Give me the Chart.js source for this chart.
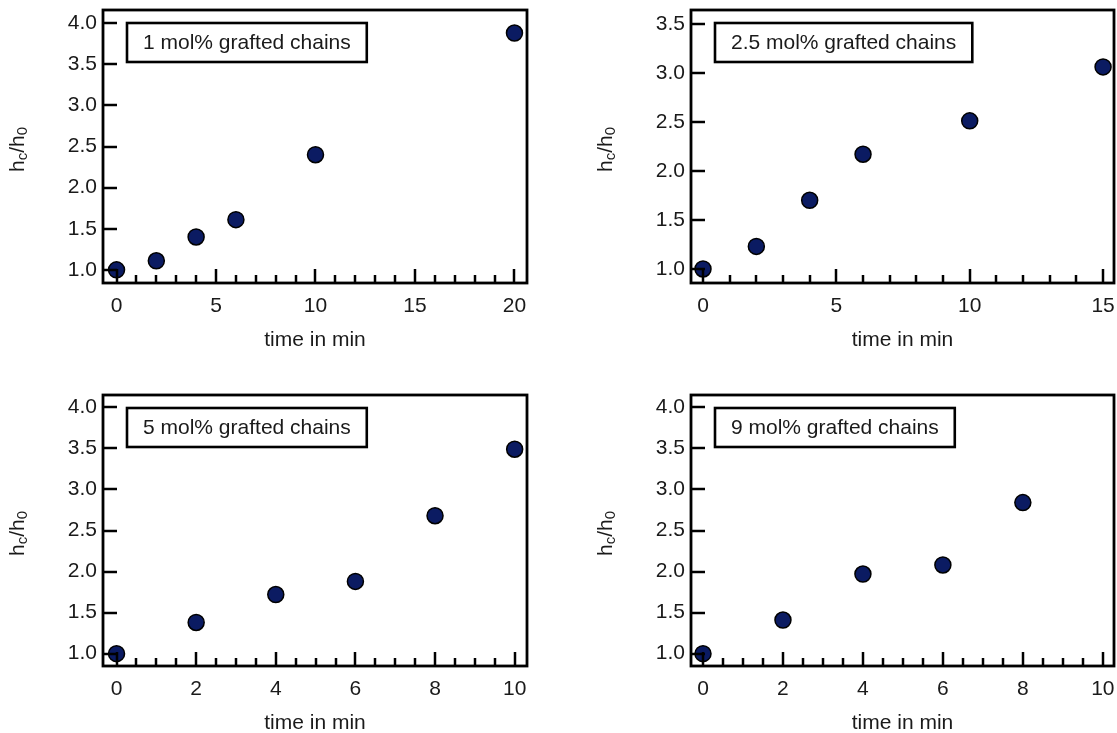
<!DOCTYPE html>
<html>
<head>
<meta charset="utf-8">
<script src="https://cdn.jsdelivr.net/npm/chart.js@4/dist/chart.umd.min.js"></script>
<style>
html,body{margin:0;padding:0;background:#fff;}
#wrap{position:relative;width:1117px;height:733px;overflow:hidden;}
canvas{position:absolute;}
</style>
</head>
<body>
<div id="wrap">
<canvas id="c1"></canvas>
<canvas id="c2"></canvas>
<canvas id="c3"></canvas>
<canvas id="c4"></canvas>
</div>
<script>
// ---- data ----
const timesA = [0, 2, 4, 6, 10, 20];
const ratioA = [1.00, 1.11, 1.40, 1.61, 2.40, 3.88];
const timesB = [0, 2, 4, 6, 10, 15];
const ratioB = [1.00, 1.23, 1.70, 2.17, 2.51, 3.06];
const timesC = [0, 2, 4, 6, 8, 10];
const ratioC = [1.00, 1.38, 1.72, 1.88, 2.68, 3.49];
const timesD = [0, 2, 4, 6, 8];
const ratioD = [1.00, 1.41, 1.97, 2.08, 2.84];

const labelA = "1 mol% grafted chains";
const labelB = "2.5 mol% grafted chains";
const labelC = "5 mol% grafted chains";
const labelD = "9 mol% grafted chains";

const xTicksA = [0, 5, 10, 15, 20];
const xTicksB = [0, 5, 10, 15];
const xTicksCD = [0, 2, 4, 6, 8, 10];
const yTicksA = [1.0, 1.5, 2.0, 2.5, 3.0, 3.5, 4.0];
const yTicksB = [1.0, 1.5, 2.0, 2.5, 3.0, 3.5];
const yTicksCD = [1.0, 1.5, 2.0, 2.5, 3.0, 3.5, 4.0];

const xTitle = "time in min";

const FONT = "'Liberation Sans', Arial, sans-serif";
const FS = 21;
const TXT = '#1a1a1a';
const PT_FILL = '#0b1b62';

const framePlugin = {
  id: 'frame',
  afterDatasetsDraw(chart, args, opts) {
    const ctx = chart.ctx;
    const a = chart.chartArea;
    const xs = chart.scales.x, ys = chart.scales.y;
    ctx.save();
    ctx.strokeStyle = '#000';
    ctx.lineCap = 'butt';
    // x ticks (major + minor), inward
    ctx.lineWidth = 2.5;
    const xmin = Math.ceil(xs.min / opts.minorStep) * opts.minorStep;
    for (let v = xmin; v <= xs.max + 1e-9; v += opts.minorStep) {
      const isMajor = opts.xTicks.some(t => Math.abs(t - v) < 1e-6);
      const len = isMajor ? 14 : 8;
      const px = Math.round(xs.getPixelForValue(v));
      ctx.beginPath();
      ctx.moveTo(px, a.bottom);
      ctx.lineTo(px, a.bottom - len);
      ctx.stroke();
    }
    // y ticks, inward
    opts.yTicks.forEach(v => {
      const py = Math.round(ys.getPixelForValue(v));
      ctx.beginPath();
      ctx.moveTo(a.left, py);
      ctx.lineTo(a.left + 14, py);
      ctx.stroke();
    });
    // frame
    ctx.lineWidth = 2.8;
    ctx.strokeRect(a.left, a.top, a.right - a.left, a.bottom - a.top);
    // x tick labels
    ctx.font = FS + 'px ' + FONT;
    ctx.fillStyle = TXT;
    ctx.textAlign = 'center';
    ctx.textBaseline = 'middle';
    opts.xTicks.forEach(v => {
      ctx.fillText(String(v), xs.getPixelForValue(v), a.bottom + 23);
    });
    // label box
    const tw = ctx.measureText(opts.label).width;
    const bx = a.left + 24, by = a.top + 13, bw = tw + 32, bh = 39;
    ctx.fillStyle = '#fff';
    ctx.fillRect(bx, by, bw, bh);
    ctx.lineWidth = 2.6;
    ctx.strokeRect(bx, by, bw, bh);
    ctx.fillStyle = TXT;
    ctx.fillText(opts.label, bx + bw / 2, by + bh / 2 + 1);
    // x title
    ctx.fillText(xTitle, (a.left + a.right) / 2, a.bottom + 57);
    // y title h_c/h_0
    ctx.translate(a.left - 85, (a.top + a.bottom) / 2 + 3);
    ctx.rotate(-Math.PI / 2);
    const big = FS + 'px ' + FONT, small = '15px ' + FONT;
    const parts = [['h', big, 0], ['c', small, 5], ['/h', big, 0], ['0', small, 5]];
    let total = 0;
    parts.forEach(p => { ctx.font = p[1]; total += ctx.measureText(p[0]).width; });
    let x = -total / 2;
    ctx.textAlign = 'left';
    ctx.textBaseline = 'middle';
    parts.forEach(p => {
      ctx.font = p[1];
      ctx.fillText(p[0], x, p[2]);
      x += ctx.measureText(p[0]).width;
    });
    ctx.restore();
  }
};

function makePanel(id, pos, area, times, ratios, xr, yr, xTicks, yTicks, minorStep, label) {
  const cv = document.getElementById(id);
  cv.style.left = pos.left + 'px';
  cv.style.top = pos.top + 'px';
  cv.style.width = pos.w + 'px';
  cv.style.height = pos.h + 'px';
  cv.width = pos.w; cv.height = pos.h;
  const pts = times.map((t, i) => ({ x: t, y: ratios[i] }));
  new Chart(cv, {
    type: 'scatter',
    data: { datasets: [{
      data: pts,
      backgroundColor: PT_FILL,
      borderColor: '#000',
      borderWidth: 1.5,
      pointRadius: 8,
      pointHoverRadius: 8,
      clip: false
    }] },
    options: {
      responsive: false,
      animation: false,
      events: [],
      layout: { autoPadding: false, padding: { left: 0, top: area.top, right: pos.w - area.right, bottom: 0 } },
      plugins: {
        legend: { display: false },
        tooltip: { enabled: false },
        frame: { label, xTicks, yTicks, minorStep }
      },
      scales: {
        x: {
          type: 'linear', min: xr[0], max: xr[1],
          grid: { display: false, drawTicks: false },
          border: { display: false },
          afterBuildTicks: s => { s.ticks = xTicks.map(v => ({ value: v })); },
          afterFit: s => { s.height = pos.h - area.bottom; s.paddingLeft = 0; s.paddingRight = 0; },
          ticks: { display: false }
        },
        y: {
          type: 'linear', min: yr[0], max: yr[1],
          grid: { display: false, drawTicks: false },
          border: { display: false },
          afterBuildTicks: s => { s.ticks = yTicks.map(v => ({ value: v })); },
          afterFit: s => { s.width = area.left; s.paddingTop = 0; s.paddingBottom = 0; },
          ticks: { padding: 6, color: TXT, font: { family: FONT, size: FS },
                   callback: v => Number(v).toFixed(1) }
        }
      }
    },
    plugins: [framePlugin]
  });
}

makePanel('c1', { left: 0, top: 0, w: 558, h: 370 }, { left: 103, right: 527, top: 10, bottom: 283 },
  timesA, ratioA, [-0.68, 20.63], [0.84, 4.16], xTicksA, yTicksA, 1, labelA);
makePanel('c2', { left: 558, top: 0, w: 559, h: 370 }, { left: 133, right: 556, top: 10, bottom: 283 },
  timesB, ratioB, [-0.45, 15.41], [0.857, 3.64], xTicksB, yTicksB, 1, labelB);
makePanel('c3', { left: 0, top: 370, w: 558, h: 363 }, { left: 103, right: 527, top: 25, bottom: 296 },
  timesC, ratioC, [-0.34, 10.31], [0.85, 4.15], xTicksCD, yTicksCD, 0.5, labelC);
makePanel('c4', { left: 558, top: 370, w: 559, h: 363 }, { left: 133, right: 556, top: 25, bottom: 296 },
  timesD, ratioD, [-0.30, 10.28], [0.85, 4.15], xTicksCD, yTicksCD, 0.5, labelD);
</script>
</body>
</html>
